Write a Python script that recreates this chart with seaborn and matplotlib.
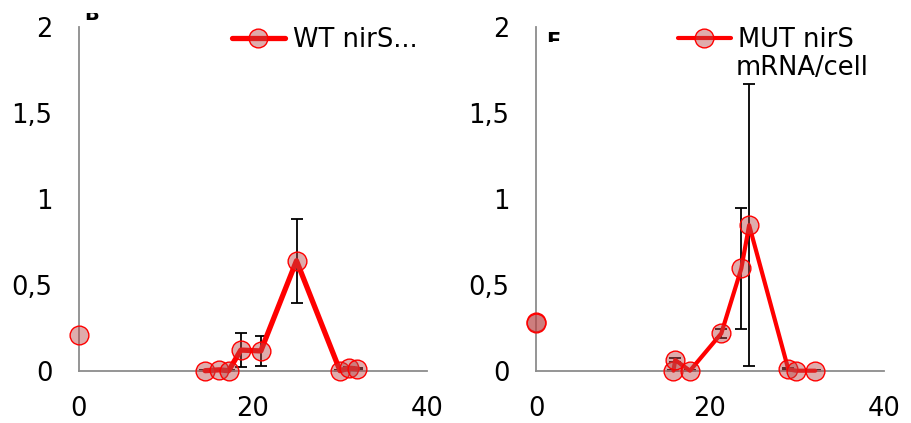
import numpy as np
import matplotlib
matplotlib.use("Agg")
import matplotlib.pyplot as plt
import seaborn as sns
from matplotlib.transforms import Bbox, TransformedBbox

# WT panel
wt_x0 = [0.0]
wt_y0 = [0.21]
wt_x = [14.5, 16.1, 17.2, 18.6, 20.9, 25.0, 30.0, 31.0, 32.0]
wt_y = [0.0, 0.005, 0.0, 0.12, 0.115, 0.64, 0.0, 0.015, 0.01]
wt_err = [0.004, 0.004, 0.004, 0.10, 0.085, 0.245, 0.004, 0.008, 0.004]

# MUT panel
mut_x0 = [0.0, 0.0]
mut_y0 = [0.285, 0.275]
mut_x = [15.8, 16.0, 17.7, 21.3, 23.6, 24.5, 29.0, 29.9, 32.1]
mut_y = [0.0, 0.062, 0.0, 0.217, 0.595, 0.847, 0.008, 0.0, 0.0]
mut_err = [0.004, 0.012, 0.004, 0.025, 0.353, 0.82, 0.005, 0.003, 0.003]

yticks = [0, 0.5, 1, 1.5, 2]
ytick_labels = ["0", "0,5", "1", "1,5", "2"]
xticks = [0, 20, 40]
xtick_labels = ["0", "20", "40"]

sns.set_style("white")
plt.rcParams['font.family'] = ['DejaVu Sans']
plt.rcParams['text.color'] = 'black'
plt.rcParams['xtick.color'] = 'black'
plt.rcParams['ytick.color'] = 'black'

fig = plt.figure(figsize=(9.12, 4.23), dpi=100)
ax1 = fig.add_axes([79 / 912, 52.3 / 423, 348 / 912, 343.7 / 423])
ax2 = fig.add_axes([536 / 912, 52.3 / 423, 348 / 912, 343.7 / 423])

face = (0.72, 0.28, 0.28, 0.45)
red = "#ff0000"
ms = 13.5


def draw_panel(ax, x0, y0, x, y, err, lw, label, leg_x):
    ax.errorbar(x, y, yerr=err, fmt="none", ecolor="black", elinewidth=1.3,
                capsize=4, capthick=1.3, clip_on=False, zorder=2)
    sns.lineplot(x=x, y=y, ax=ax, sort=False, color=red, linewidth=lw,
                 marker="o", markersize=ms, markerfacecolor=face,
                 markeredgecolor=red, markeredgewidth=1.0, label=label,
                 clip_on=False, zorder=3)
    sns.scatterplot(x=x0, y=y0, ax=ax, s=ms ** 2, color=face, edgecolor=red,
                    linewidth=1.0, clip_on=False, zorder=3)
    ax.set_xlim(0, 40)
    ax.set_ylim(0, 2)
    ax.set_xticks(xticks)
    ax.set_xticklabels(xtick_labels)
    ax.set_yticks(yticks)
    ax.set_yticklabels(ytick_labels)
    ax.tick_params(axis="both", length=0, labelsize=18.5, labelcolor="black")
    ax.tick_params(axis="y", pad=19)
    ax.tick_params(axis="x", pad=18)
    for s in ["top", "right"]:
        ax.spines[s].set_visible(False)
    for s in ["left", "bottom"]:
        ax.spines[s].set_color("#8c8c8c")
        ax.spines[s].set_linewidth(1.3)
    ax.set_xlabel("")
    ax.set_ylabel("")
    ax.legend(loc="upper left", bbox_to_anchor=(leg_x, 1.0), frameon=False,
              fontsize=18.5, handlelength=2.05, handletextpad=0.3,
              borderpad=0, borderaxespad=0, labelcolor="black")


draw_panel(ax1, wt_x0, wt_y0, wt_x, wt_y, wt_err, 3.8, "WT nirS...", 0.44)
draw_panel(ax2, mut_x0, mut_y0, mut_x, mut_y, mut_err, 3.0, "MUT nirS", 0.408)
# second line of the MUT legend label
ax2.text(0.575, (370.7 - 68) / 343.7, "mRNA/cell", transform=ax2.transAxes,
         fontsize=18.5, va="center", ha="left", color="black")

# clipped panel letters peeking out at the top
tb = fig.text(84 / 912, 1 - 20 / 423, "B", fontsize=14, fontweight="bold",
              va="baseline", ha="left")
tb.set_clip_box(TransformedBbox(Bbox([[80 / 912, 1 - 21 / 423],
                                      [102 / 912, 1 - 13 / 423]]),
                                fig.transFigure))
tb.set_clip_on(True)
tf = fig.text(546 / 912, 1 - 32 / 423, "F", fontsize=15, fontweight="bold",
              va="top", ha="left")
tf.set_clip_box(TransformedBbox(Bbox([[540 / 912, 1 - 42 / 423],
                                      [562 / 912, 1 - 30 / 423]]),
                                fig.transFigure))
tf.set_clip_on(True)

fig.savefig("out.png", dpi=100)
